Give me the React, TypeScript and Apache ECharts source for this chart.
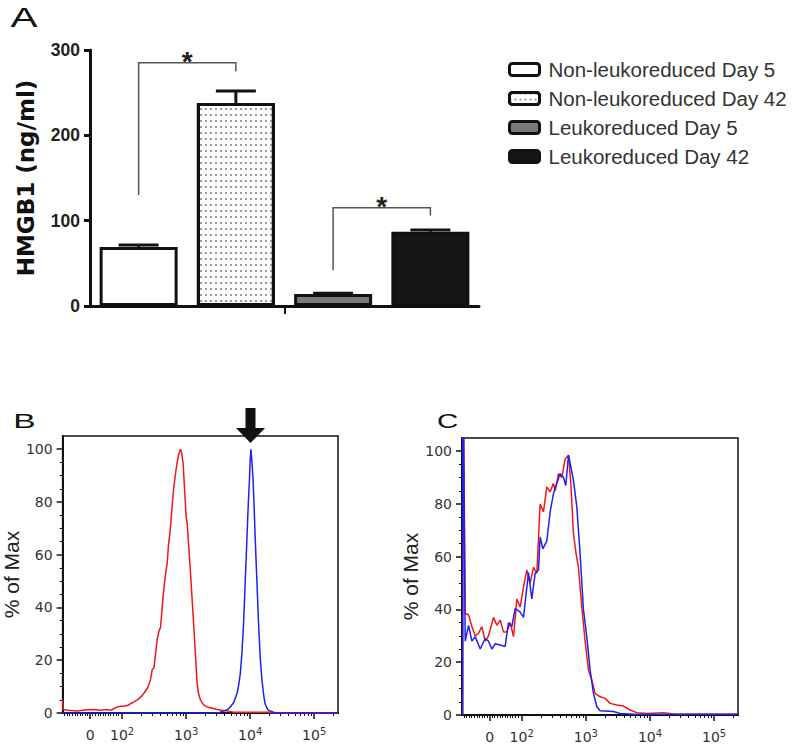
import React, { useEffect, useRef } from 'react';
import * as echarts from 'echarts';

// ---------- Panel A data ----------
const barCategories = ['Non-leukoreduced Day 5', 'Non-leukoreduced Day 42', 'Leukoreduced Day 5', 'Leukoreduced Day 42'];
const barValues = [69, 238, 14, 87];
const barErrors = [2.5, 14, 1, 2];
const barFill = ['#ffffff', '#ffffff', '#7a7a7a', '#151515'];
const aYTicks = [0, 100, 200, 300];
// significance brackets: left category, right category, left foot, top, right foot
const sigLeft = [0, 2];
const sigRight = [1, 3];
const sigLeftFoot = [130, 42];
const sigTop = [285, 115];
const sigRightFoot = [275, 106];
const sigLabel = ['*', '*'];

// ---------- Flow panels (x in display decades: 10^k at k, "0" at 1.5) ----------
const flowTickValues = [1.5, 2, 3, 4, 5];
const flowTickBase = ['0', '10', '10', '10', '10'];
const flowTickExp = ['', '2', '3', '4', '5'];
const flowYTicks = [0, 20, 40, 60, 80, 100];
const flowYMinor = [5, 10, 15, 25, 30, 35, 45, 50, 55, 65, 70, 75, 85, 90, 95];
const flowLinearMinor = [1.1, 1.14, 1.18, 1.22, 1.26, 1.3, 1.34, 1.38, 1.42, 1.46, 1.54, 1.58, 1.62, 1.66, 1.7, 1.74, 1.78, 1.82, 1.86, 1.9, 1.94];

const bRed: number[][] = [
  [1.068, 5.0], [1.08, 1.3], [1.146, 1.0], [1.302, 0.8], [1.457, 1.2], [1.56, 1.3], [1.665, 1.0], [1.77, 1.3],
  [1.821, 1.0], [1.873, 1.7], [1.925, 2.3], [1.977, 2.6], [2.03, 2.6], [2.081, 2.8], [2.13, 3.5], [2.184, 4.2],
  [2.236, 5.0], [2.288, 6.0], [2.34, 7.5], [2.392, 9.3], [2.42, 11.0], [2.444, 12.8], [2.47, 16.5], [2.496, 17.0],
  [2.52, 22.0], [2.548, 28.0], [2.575, 31.0], [2.6, 32.5], [2.625, 40.0], [2.651, 47.0], [2.68, 53.0], [2.704, 57.0],
  [2.725, 64.0], [2.735, 66.0], [2.745, 68.0], [2.76, 72.0], [2.782, 79.0], [2.805, 85.0], [2.833, 90.6], [2.86, 95.0],
  [2.885, 98.3], [2.911, 100], [2.93, 98.5], [2.953, 94.5], [2.97, 87.0], [2.989, 79.0], [3.0, 74.0], [3.01, 73.0],
  [3.016, 72.0], [3.04, 63.0], [3.067, 53.5], [3.093, 43.0], [3.119, 33.0], [3.145, 22.0], [3.171, 11.3], [3.197, 7.0],
  [3.223, 4.9], [3.275, 3.0], [3.327, 2.3], [3.405, 1.8], [3.483, 1.3], [3.56, 1.0], [3.639, 0.8], [3.742, 0.3],
  [4.3, 0.3], [4.364, 0], [5.372, 0]
];
const bBlue: number[][] = [
  [1.068, 0], [3.5, 0], [3.587, 0.8], [3.64, 1.2], [3.69, 2.3], [3.742, 4.0], [3.794, 7.4], [3.82, 10.5], [3.846, 15],
  [3.872, 23], [3.897, 34], [3.923, 50], [3.949, 66], [3.97, 79], [3.99, 89], [4.0, 96], [4.012, 100], [4.025, 96],
  [4.044, 89], [4.06, 79], [4.079, 66], [4.105, 50], [4.131, 34], [4.157, 21], [4.184, 12.5], [4.21, 7.0], [4.231, 3.6],
  [4.26, 2.0], [4.287, 1.0], [4.364, 0.3], [4.45, 0], [5.372, 0]
];
const cRed: number[][] = [
  [1.08, 0], [1.085, 140], [1.095, 140], [1.12, 38.5], [1.172, 38], [1.224, 33.5], [1.276, 30], [1.328, 31],
  [1.379, 33.5], [1.431, 28], [1.483, 30], [1.561, 37], [1.613, 34], [1.665, 36], [1.717, 31.5], [1.769, 31.5],
  [1.821, 35], [1.873, 29.7], [1.925, 44], [1.977, 41], [2.029, 48.6], [2.08, 55], [2.132, 50], [2.184, 56],
  [2.236, 53.7], [2.288, 80], [2.34, 77], [2.392, 86.5], [2.444, 84.6], [2.496, 87.8], [2.522, 85], [2.574, 91.5],
  [2.626, 90], [2.678, 97], [2.73, 98.5], [2.766, 87.8], [2.807, 68.8], [2.849, 61], [2.885, 56], [2.937, 41],
  [2.989, 28], [3.041, 17], [3.093, 13.3], [3.145, 8.2], [3.223, 6.9], [3.301, 6.3], [3.379, 4.4], [3.482, 3.8],
  [3.586, 3.4], [3.69, 1.9], [3.794, 0.9], [3.95, 0.6], [4.21, 0.9], [4.365, 0.4], [5.372, 0.25]
];
const cBlue: number[][] = [
  [1.08, 0], [1.085, 140], [1.095, 140], [1.12, 28], [1.172, 34], [1.224, 28], [1.276, 29.7], [1.354, 25],
  [1.431, 29], [1.483, 28], [1.535, 25], [1.587, 27], [1.665, 26.5], [1.743, 26], [1.795, 35], [1.847, 33.5],
  [1.899, 40.4], [1.977, 39], [2.029, 37], [2.106, 54], [2.158, 44], [2.21, 53.7], [2.262, 55], [2.288, 67.5],
  [2.33, 63], [2.392, 66], [2.444, 77], [2.496, 84], [2.548, 87.8], [2.6, 91.5], [2.652, 90], [2.688, 87],
  [2.73, 98.5], [2.766, 94], [2.807, 89], [2.859, 79], [2.911, 61], [2.963, 40], [3.015, 29.7], [3.067, 17],
  [3.119, 8.2], [3.171, 3.2], [3.223, 1.6], [3.43, 1.3], [3.534, 0.6], [3.742, 0.25], [5.372, 0.25]
];

const RED = '#f01818';
const BLUE = '#2020f0';
const SANS = 'Liberation Sans, Arial, sans-serif';
const FLOW_FONT = 'DejaVu Sans, sans-serif';

const flowMinorX: number[] = (() => {
  const t = [...flowLinearMinor];
  for (const d of [2, 3, 4]) for (let m = 2; m <= 9; m++) t.push(d + Math.log10(m));
  t.push(5 + Math.log10(2));
  return t;
})();

function flowXAxes(gridIndex: number) {
  const common = { type: 'value', gridIndex, position: 'bottom', min: 1.07, max: 5.372, splitLine: { show: false } };
  return [
    {
      ...common,
      axisLine: { show: true, lineStyle: { color: '#111', width: 2 } },
      axisTick: { show: true, customValues: flowTickValues, length: 6, lineStyle: { color: '#111', width: 1.5 } },
      axisLabel: {
        show: true,
        customValues: flowTickValues,
        margin: 13,
        formatter: (v: number) => {
          const i = flowTickValues.findIndex((t) => Math.abs(t - v) < 1e-6);
          if (i < 0) return '';
          return flowTickExp[i] ? `{b|${flowTickBase[i]}}{s|${flowTickExp[i]}}` : `{b|${flowTickBase[i]}}`;
        },
        rich: {
          b: { fontFamily: FLOW_FONT, fontSize: 14, color: '#333', lineHeight: 18 },
          s: { fontFamily: FLOW_FONT, fontSize: 10, color: '#333', verticalAlign: 'top', lineHeight: 11 },
        },
      },
    },
    {
      ...common,
      axisLine: { show: false },
      axisTick: { show: true, customValues: flowMinorX, length: 3, lineStyle: { color: '#111', width: 1 } },
      axisLabel: { show: false },
    },
  ];
}

function flowYAxes(gridIndex: number) {
  const common = { type: 'value', gridIndex, position: 'left', min: 0, max: 105, splitLine: { show: false } };
  return [
    {
      ...common,
      name: '% of Max',
      nameLocation: 'middle',
      nameGap: 40,
      nameTextStyle: { fontFamily: SANS, fontSize: 21, color: '#222' },
      axisLine: { show: true, lineStyle: { color: '#111', width: 2 } },
      axisTick: { show: true, customValues: flowYTicks, length: 6, lineStyle: { color: '#111', width: 1.5 } },
      axisLabel: { show: true, customValues: flowYTicks, margin: 10, fontFamily: FLOW_FONT, fontSize: 14, color: '#333' },
    },
    {
      ...common,
      axisLine: { show: false },
      axisTick: { show: true, customValues: flowYMinor, length: 3, lineStyle: { color: '#111', width: 1 } },
      axisLabel: { show: false },
    },
  ];
}

function lineSeries(data: number[][], color: string, xAxisIndex: number, yAxisIndex: number, z: number) {
  return {
    type: 'line',
    xAxisIndex,
    yAxisIndex,
    data,
    showSymbol: false,
    symbol: 'none',
    clip: true,
    z,
    lineStyle: { color, width: 1.5 },
    itemStyle: { color },
  };
}

export default function App() {
  const ref = useRef<HTMLDivElement>(null);
  useEffect(() => {
    if (!ref.current) return;
    const chart = echarts.init(ref.current, undefined, { renderer: 'svg' });
    const barSeries = barCategories.map((name, i) => ({
      type: 'bar',
      name,
      xAxisIndex: 0,
      yAxisIndex: 0,
      stack: 'bars',
      barWidth: 78,
      data: barCategories.map((_, j) => (j === i ? barValues[i] : '-')),
      itemStyle: {
        color: barFill[i],
        borderColor: '#111',
        borderWidth: 3,
        decal:
          i === 1
            ? { symbol: 'rect', symbolSize: 1, dashArrayX: [1.2, 3], dashArrayY: [1.2, 3.3], color: '#9a9a9a', backgroundColor: '#ffffff' }
            : 'none',
      },
    }));

    const option: any = {
      animation: false,
      backgroundColor: '#ffffff',
      textStyle: { fontFamily: SANS },
      grid: [
        { left: 90, top: 50, width: 389, height: 256 },
        { left: 62, top: 436, width: 276, height: 277, show: true, borderColor: '#111', borderWidth: 1.5, backgroundColor: 'transparent' },
        { left: 462, top: 438, width: 276, height: 277, show: true, borderColor: '#111', borderWidth: 1.5, backgroundColor: 'transparent' },
      ],
      legend: {
        data: barCategories,
        orient: 'vertical',
        left: 503,
        top: 54,
        itemWidth: 30,
        itemHeight: 12,
        itemGap: 8,
        icon: 'roundRect',
        selectedMode: false,
        itemStyle: { borderWidth: 3, borderColor: '#111' },
        textStyle: { fontFamily: SANS, fontSize: 20.5, color: '#333', padding: [0, 0, 0, 4] },
      },
      xAxis: [
        {
          type: 'category',
          gridIndex: 0,
          data: barCategories,
          boundaryGap: true,
          axisLine: { show: true, lineStyle: { color: '#111', width: 3 } },
          axisTick: { show: false },
          axisLabel: { show: false },
          splitLine: { show: false },
        },
        ...flowXAxes(1),
        ...flowXAxes(2),
        {
          // group separator tick for panel A (between the two groups of bars)
          type: 'value',
          gridIndex: 0,
          position: 'bottom',
          min: 0,
          max: 4,
          axisLine: { show: false },
          axisTick: { show: true, customValues: [2], length: 8, lineStyle: { color: '#111', width: 2 } },
          axisLabel: { show: false },
          splitLine: { show: false },
        },
      ],
      yAxis: [
        {
          type: 'value',
          gridIndex: 0,
          min: 0,
          max: 300,
          interval: 100,
          name: 'HMGB1 (ng/ml)',
          nameLocation: 'middle',
          nameGap: 53,
          nameTextStyle: { fontFamily: 'DejaVu Sans, sans-serif', fontWeight: 'bold', fontSize: 23, color: '#111' },
          axisLine: { show: true, lineStyle: { color: '#111', width: 3 } },
          axisTick: { show: true, length: 6, lineStyle: { color: '#111', width: 3 } },
          axisLabel: {
            customValues: aYTicks,
            margin: 10,
            fontFamily: SANS,
            fontWeight: 'bold',
            fontSize: 17.5,
            color: '#222',
          },
          splitLine: { show: false },
        },
        ...flowYAxes(1),
        ...flowYAxes(2),
      ],
      series: [
        ...barSeries,
        {
          type: 'custom',
          name: 'errors',
          xAxisIndex: 0,
          yAxisIndex: 0,
          z: 5,
          encode: { x: 0, y: [1, 2] },
          data: barValues.map((v, i) => [i, v, v + barErrors[i]]),
          renderItem: (params: any, api: any) => {
            const base = api.coord([api.value(0), api.value(1)]);
            const top = api.coord([api.value(0), api.value(2)]);
            const st = { stroke: '#111', lineWidth: 3 };
            return {
              type: 'group',
              children: [
                { type: 'line', shape: { x1: base[0], y1: base[1], x2: top[0], y2: top[1] }, style: st },
                { type: 'line', shape: { x1: top[0] - 20, y1: top[1], x2: top[0] + 20, y2: top[1] }, style: st },
              ],
            };
          },
        },
        {
          type: 'custom',
          name: 'significance',
          xAxisIndex: 0,
          yAxisIndex: 0,
          z: 6,
          encode: { x: [0, 1], y: [2, 3, 4] },
          data: sigLeft.map((l, i) => [l, sigRight[i], sigLeftFoot[i], sigTop[i], sigRightFoot[i]]),
          renderItem: (params: any, api: any) => {
            const a = api.coord([api.value(0), api.value(2)]);
            const b = api.coord([api.value(0), api.value(3)]);
            const c = api.coord([api.value(1), api.value(3)]);
            const d = api.coord([api.value(1), api.value(4)]);
            return {
              type: 'group',
              children: [
                {
                  type: 'polyline',
                  shape: { points: [a, b, c, d] },
                  style: { stroke: '#555', lineWidth: 1.5, fill: 'none' },
                },
                {
                  type: 'text',
                  x: (b[0] + c[0]) / 2,
                  y: b[1] - 1,
                  style: {
                    text: sigLabel[params.dataIndex],
                    font: 'bold 28px Liberation Sans, Arial, sans-serif',
                    fill: '#222',
                    textAlign: 'center',
                    textVerticalAlign: 'middle',
                  },
                },
              ],
            };
          },
        },
        lineSeries(bRed, RED, 1, 1, 3),
        lineSeries(bBlue, BLUE, 1, 1, 4),
        lineSeries(cRed, RED, 3, 3, 3),
        lineSeries(cBlue, BLUE, 3, 3, 4),
      ],
      graphic: [
        {
          type: 'text',
          x: 24,
          y: 17,
          scaleX: 1.45,
          style: { text: 'A', font: '28px Liberation Sans, Arial, sans-serif', fill: '#111', textAlign: 'center', textVerticalAlign: 'middle' },
        },
        {
          type: 'text',
          x: 24.5,
          y: 420.5,
          scaleX: 1.6,
          style: { text: 'B', font: '21px Liberation Sans, Arial, sans-serif', fill: '#111', textAlign: 'center', textVerticalAlign: 'middle' },
        },
        {
          type: 'text',
          x: 447.5,
          y: 420.5,
          scaleX: 1.4,
          style: { text: 'C', font: '21px Liberation Sans, Arial, sans-serif', fill: '#111', textAlign: 'center', textVerticalAlign: 'middle' },
        },
        {
          type: 'polygon',
          shape: {
            points: [
              [245.5, 408],
              [255.5, 408],
              [255.5, 428],
              [265, 428],
              [250.5, 443],
              [236, 428],
              [245.5, 428],
            ],
          },
          style: { fill: '#111' },
          z: 10,
        },
      ],
    };
    chart.setOption(option);
    return () => chart.dispose();
  }, []);
  return <div ref={ref} style={{ position: 'fixed', left: 0, top: 0, width: 800, height: 750 }} />;
}
